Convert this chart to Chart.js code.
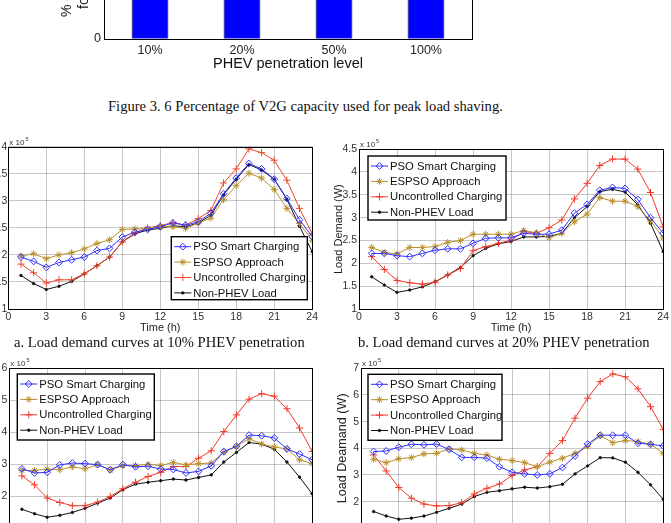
<!DOCTYPE html>
<html>
<head>
<meta charset="utf-8">
<script src="https://cdn.jsdelivr.net/npm/chart.js@4.4.0/dist/chart.umd.min.js"></script>
<style>
  html, body { margin: 0; padding: 0; width: 671px; height: 523px; overflow: hidden; background: #fff; }
  body { position: relative; }
  canvas { position: absolute; }
  .cap { position: absolute; font-family: "Liberation Serif", "Times New Roman", serif; font-size: 14.6px; line-height: 17px; color: #111; white-space: nowrap; }
</style>
</head>
<body>
<canvas id="barV2G" width="480" height="245" style="left:0px; top:-170px"></canvas>
<div class="cap" style="left:108px; top:98px">Figure 3. 6 Percentage of V2G capacity used for peak load shaving.</div>

<canvas id="load10" width="362" height="211" style="left:-42px; top:128px"></canvas>
<canvas id="load20" width="345" height="209" style="left:326px; top:131px"></canvas>
<div class="cap" style="left:14px; top:334px">a. Load demand curves at 10% PHEV penetration</div>
<div class="cap" style="left:358px; top:334px">b. Load demand curves at 20% PHEV penetration</div>

<canvas id="load50" width="362" height="209" style="left:-42px; top:350px"></canvas>
<canvas id="load100" width="345" height="209" style="left:326px; top:350px"></canvas>

<script>
// bar chart (top, mostly cut off)
const penetrationLevels = ['10%', '20%', '50%', '100%'];
const v2gUsedPct = [62, 66, 70, 74];

// load demand curves, values in x 10^5 W
const hours = [1, 2, 3, 4, 5, 6, 7, 8, 9, 10, 11, 12, 13, 14, 15, 16, 17, 18, 19, 20, 21, 22, 23, 24];

const pen10Pso   = [1.96, 1.88, 1.77, 1.86, 1.91, 1.96, 2.08, 2.12, 2.33, 2.42, 2.47, 2.52, 2.59, 2.55, 2.61, 2.77, 3.13, 3.42, 3.69, 3.59, 3.40, 3.04, 2.65, 2.34];
const pen10Espso = [1.98, 2.02, 1.93, 2.00, 2.04, 2.11, 2.21, 2.28, 2.47, 2.48, 2.49, 2.52, 2.52, 2.49, 2.59, 2.68, 3.02, 3.28, 3.51, 3.42, 3.21, 2.86, 2.58, 2.27];
const pen10Unc   = [1.83, 1.67, 1.48, 1.54, 1.54, 1.65, 1.80, 1.96, 2.24, 2.41, 2.50, 2.54, 2.60, 2.55, 2.67, 2.82, 3.33, 3.59, 3.96, 3.89, 3.75, 3.38, 2.86, 2.39];
const pen10Base  = [1.62, 1.47, 1.36, 1.42, 1.51, 1.65, 1.80, 1.96, 2.24, 2.39, 2.46, 2.49, 2.54, 2.52, 2.59, 2.73, 3.11, 3.40, 3.67, 3.57, 3.40, 3.03, 2.53, 2.06];

const pen20Pso   = [2.22, 2.22, 2.17, 2.15, 2.22, 2.29, 2.32, 2.32, 2.44, 2.55, 2.56, 2.56, 2.66, 2.64, 2.64, 2.73, 3.10, 3.29, 3.60, 3.66, 3.64, 3.40, 3.00, 2.66];
const pen20Espso = [2.35, 2.24, 2.21, 2.35, 2.35, 2.37, 2.46, 2.50, 2.64, 2.64, 2.64, 2.64, 2.72, 2.67, 2.56, 2.66, 2.91, 3.08, 3.44, 3.36, 3.36, 3.24, 2.93, 2.56];
const pen20Unc   = [2.15, 1.87, 1.63, 1.58, 1.55, 1.59, 1.75, 1.89, 2.28, 2.37, 2.44, 2.51, 2.70, 2.66, 2.78, 2.95, 3.41, 3.75, 4.14, 4.28, 4.28, 4.06, 3.55, 2.80];
const pen20Base  = [1.71, 1.53, 1.37, 1.42, 1.49, 1.60, 1.75, 1.91, 2.17, 2.33, 2.43, 2.48, 2.58, 2.58, 2.59, 2.66, 3.00, 3.24, 3.57, 3.62, 3.56, 3.28, 2.88, 2.26];

const pen50Pso   = [2.86, 2.73, 2.75, 2.98, 3.04, 3.02, 2.99, 2.83, 2.99, 2.92, 2.94, 2.85, 2.84, 2.73, 2.78, 2.95, 3.40, 3.56, 3.91, 3.89, 3.82, 3.48, 3.32, 3.14];
const pen50Espso = [2.81, 2.81, 2.85, 2.83, 2.92, 2.86, 2.99, 2.82, 2.96, 2.96, 3.00, 2.96, 3.06, 2.98, 3.02, 3.04, 3.37, 3.56, 3.80, 3.63, 3.54, 3.48, 3.14, 3.02];
const pen50Unc   = [2.64, 2.36, 1.95, 1.81, 1.71, 1.71, 1.82, 2.00, 2.24, 2.44, 2.62, 2.75, 2.93, 2.93, 3.19, 3.42, 4.02, 4.54, 5.03, 5.20, 5.12, 4.73, 4.13, 3.40];
const pen50Base  = [1.60, 1.46, 1.35, 1.41, 1.50, 1.63, 1.79, 1.95, 2.21, 2.38, 2.44, 2.49, 2.54, 2.51, 2.59, 2.67, 3.07, 3.37, 3.68, 3.63, 3.47, 3.07, 2.60, 2.08];

const pen100Pso   = [3.88, 3.90, 4.04, 4.15, 4.13, 4.16, 3.96, 3.66, 3.66, 3.63, 3.31, 3.10, 3.04, 3.00, 3.04, 3.28, 3.71, 4.16, 4.49, 4.49, 4.49, 4.19, 4.15, 4.09];
const pen100Espso = [3.59, 3.46, 3.61, 3.65, 3.79, 3.81, 3.98, 3.94, 3.81, 3.75, 3.59, 3.54, 3.46, 3.31, 3.48, 3.63, 3.81, 4.06, 4.48, 4.21, 4.29, 4.25, 4.16, 3.81];
const pen100Unc   = [3.75, 3.15, 2.53, 2.13, 1.91, 1.84, 1.85, 1.96, 2.29, 2.50, 2.66, 2.98, 3.19, 3.31, 3.81, 4.29, 5.13, 5.88, 6.50, 6.79, 6.68, 6.23, 5.56, 4.71];
const pen100Base  = [1.63, 1.46, 1.34, 1.38, 1.46, 1.60, 1.75, 1.91, 2.19, 2.35, 2.41, 2.48, 2.54, 2.51, 2.56, 2.65, 3.04, 3.34, 3.65, 3.64, 3.48, 3.10, 2.63, 2.09];

const SANS = '"Liberation Sans", Arial, sans-serif';
Chart.defaults.font.family = SANS;

// black box round the plot area (matlab "box on")
const frameBox = {
  id: 'frameBox',
  afterDraw(chart) {
    const { ctx, chartArea: a } = chart;
    ctx.save();
    ctx.strokeStyle = '#000';
    ctx.lineWidth = 1;
    ctx.strokeRect(Math.round(a.left) + 0.5, Math.round(a.top) + 0.5, Math.round(a.right - a.left), Math.round(a.bottom - a.top));
    ctx.restore();
  }
};

// legend box drawn inside the axes
const boxLegend = {
  id: 'boxLegend',
  afterDraw(chart, args, opts) {
    if (!opts || opts.x == null) return;
    const { ctx, chartArea: a } = chart;
    const x = a.left + opts.x, y = a.top + opts.y;
    ctx.save();
    ctx.fillStyle = '#fff';
    ctx.fillRect(x, y, opts.w, opts.h);
    ctx.strokeStyle = '#000';
    ctx.lineWidth = 1.4;
    ctx.strokeRect(x, y, opts.w, opts.h);
    ctx.font = '11.3px ' + SANS;
    ctx.textBaseline = 'middle';
    chart.data.datasets.forEach((ds, i) => {
      const ry = y + 10 + i * 15.4;
      ctx.strokeStyle = ds.borderColor;
      ctx.lineWidth = 1;
      ctx.beginPath();
      ctx.moveTo(x + 3, ry);
      ctx.lineTo(x + 20, ry);
      ctx.stroke();
      ctx.fillStyle = ds.pointBackgroundColor;
      Chart.helpers.drawPoint(ctx, { pointStyle: ds.pointStyle, radius: ds.pointRadius, rotation: 0, borderWidth: 1 }, x + 11.5, ry);
      ctx.fillStyle = '#111';
      ctx.fillText(ds.label, x + 22, ry + 0.5);
    });
    ctx.restore();
  }
};

// "x 10^5" exponent label at the top left of the axes
const expLabel = {
  id: 'expLabel',
  afterDraw(chart) {
    const { ctx, chartArea: a } = chart;
    ctx.save();
    ctx.fillStyle = '#333';
    ctx.font = '8px ' + SANS;
    ctx.fillText('x 10', a.left + 1, a.top - 2);
    const w = ctx.measureText('x 10').width;
    ctx.font = '5.5px ' + SANS;
    ctx.fillText('5', a.left + 2 + w, a.top - 6);
    ctx.restore();
  }
};

function pts(vals) {
  return hours.map((h, i) => ({ x: h, y: vals[i] }));
}

const plainNum = v => String(Math.round(v * 100) / 100);

function loadChart(id, pso, espso, unc, base, o) {
  const red = o.red || '#f23a2a';
  return new Chart(document.getElementById(id), {
    type: 'line',
    data: {
      datasets: [
        { label: 'PSO Smart Charging', data: pts(pso), borderColor: '#2f2fff', pointBackgroundColor: 'rgba(0,0,0,0)', pointBorderColor: '#2f2fff', pointStyle: 'rectRot', pointRadius: 3.4 },
        { label: 'ESPSO Approach', data: pts(espso), borderColor: '#b8902c', pointBackgroundColor: '#b8902c', pointBorderColor: '#b8902c', pointStyle: 'star', pointRadius: 3.4 },
        { label: 'Uncontrolled Charging', data: pts(unc), borderColor: red, pointBackgroundColor: red, pointBorderColor: red, pointStyle: 'cross', pointRadius: 3.6 },
        { label: 'Non-PHEV Load', data: pts(base), borderColor: '#111', pointBackgroundColor: '#111', pointBorderColor: '#111', pointStyle: 'circle', pointRadius: 1.2 }
      ]
    },
    options: {
      responsive: false,
      animation: false,
      elements: { line: { borderWidth: 1, tension: 0 }, point: { borderWidth: 1 } },
      layout: { padding: { top: o.padTop, right: o.padRight, left: 0, bottom: 0 } },
      plugins: {
        legend: { display: false },
        tooltip: { enabled: false },
        boxLegend: o.legend
      },
      scales: {
        x: {
          type: 'linear', min: 0, max: 24,
          ticks: { stepSize: 3, padding: 2, autoSkip: false, maxRotation: 0, color: '#333', font: { size: 10.5 }, callback: plainNum },
          grid: { color: 'rgba(0,0,0,0.22)', drawTicks: false },
          border: { display: false },
          title: { display: true, text: 'Time (h)', color: '#222', font: { size: 11 }, padding: { top: 0, bottom: o.xTitlePad } },
          afterFit: s => { s.height = o.xH; }
        },
        y: {
          min: 1, max: o.yMax,
          ticks: { stepSize: o.yStep, padding: o.yPad, autoSkip: false, color: '#333', font: { size: 10.5 }, callback: plainNum },
          grid: { color: 'rgba(0,0,0,0.22)', drawTicks: false },
          border: { display: false },
          title: { display: !!o.yTitle, text: o.yTitle, color: '#222', font: { size: o.yTitleSize || 12 }, padding: { top: o.yTitlePad || 0, bottom: 0 } },
          afterFit: s => { s.width = o.yW; }
        }
      }
    },
    plugins: [frameBox, boxLegend, expLabel]
  });
}

loadChart('load10', pen10Pso, pen10Espso, pen10Unc, pen10Base, {
  red: '#ec4a2c', padTop: 18.7, padRight: 4, yW: 50.3, xH: 30, xTitlePad: 4.4,
  yMax: 4, yStep: 0.5, yPad: 1,
  legend: { x: 163, y: 90, w: 136, h: 63 }
});

loadChart('load20', pen20Pso, pen20Espso, pen20Unc, pen20Base, {
  padTop: 18, padRight: 6, yW: 33, xH: 30.7, xTitlePad: 5.7,
  yMax: 4.5, yStep: 0.5, yPad: 2, yTitle: 'Load Demand (W)', yTitleSize: 11, yTitlePad: 6.4,
  legend: { x: 9, y: 7, w: 138, h: 64 }
});

loadChart('load50', pen50Pso, pen50Espso, pen50Unc, pen50Base, {
  padTop: 18, padRight: 4, yW: 51.3, xH: 30.5, xTitlePad: 5,
  yMax: 6, yStep: 1, yPad: 2,
  legend: { x: 8, y: 6, w: 137, h: 66 }
});

loadChart('load100', pen100Pso, pen100Espso, pen100Unc, pen100Base, {
  padTop: 18.3, padRight: 5, yW: 35, xH: 30.7, xTitlePad: 5,
  yMax: 7, yStep: 1, yPad: 2, yTitle: 'Load Deamand (W)', yTitleSize: 12.6, yTitlePad: 9.4,
  legend: { x: 7, y: 6, w: 134, h: 66 }
});

new Chart(document.getElementById('barV2G'), {
  type: 'bar',
  data: {
    labels: penetrationLevels,
    datasets: [{
      data: v2gUsedPct,
      backgroundColor: '#0000ff',
      borderColor: '#000044',
      borderWidth: 1,
      barPercentage: 0.4,
      categoryPercentage: 1
    }]
  },
  options: {
    responsive: false,
    animation: false,
    layout: { padding: { top: 16, right: 8, left: 0, bottom: 0 } },
    plugins: { legend: { display: false }, tooltip: { enabled: false } },
    scales: {
      x: {
        ticks: { color: '#222', padding: 4, font: { size: 12.5 } },
        grid: { display: false, drawTicks: false },
        border: { display: false },
        title: { display: true, text: 'PHEV penetration level', color: '#111', font: { size: 14.5 }, padding: { top: 0, bottom: 2 } },
        afterFit: s => { s.height = 36.3; }
      },
      y: {
        min: 0, max: 100,
        ticks: { stepSize: 25, color: '#222', padding: 3, font: { size: 12.5 } },
        grid: { display: false, drawTicks: false },
        border: { display: false },
        title: { display: true, text: ['% of V2G capacity used', 'for peak load shaving'], color: '#111', font: { size: 14 }, padding: { top: 59, bottom: 0 } },
        afterFit: s => { s.width = 104; }
      }
    }
  },
  plugins: [frameBox]
});
</script>
</body>
</html>
